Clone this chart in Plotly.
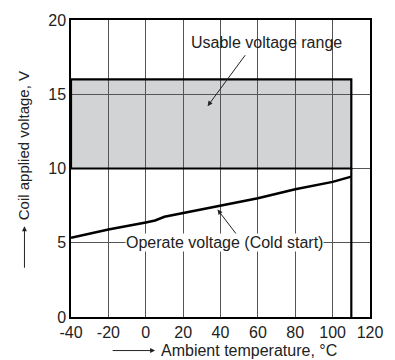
import plotly.graph_objects as go

# Operate voltage (cold start) curve
temps = [-40, -20, 0, 5, 10, 20, 40, 60, 80, 100, 110]
volts = [5.33, 5.89, 6.37, 6.5, 6.75, 6.99, 7.52, 8.0, 8.6, 9.1, 9.45]

# Usable voltage range
range_t = [-40, 110]
range_v = [10, 16]

x_ticks = [-40, -20, 0, 20, 40, 60, 80, 100, 120]
x_ticktext = ["-40", "-20", "0", "20", "40", "60", "80", "100", "120"]
y_ticks = [0, 5, 10, 15, 20]

FONT = "Liberation Sans, Arial, sans-serif"
FS = 16
L, R, T, B = 71, 22, 16, 43
W, H = 395, 360
PW, PH = W - L - R, H - T - B


def px(xp):
    return (xp - L) / PW


def py(yp):
    return (H - B - yp) / PH


fig = go.Figure()
fig.add_trace(go.Scatter(x=temps, y=volts, mode="lines",
                         line=dict(color="black", width=2.5), showlegend=False,
                         hoverinfo="skip"))

fig.add_shape(type="rect", x0=range_t[0], x1=range_t[1], y0=range_v[0], y1=range_v[1],
              xref="x", yref="y", fillcolor="#d2d3d5", line=dict(width=0), layer="below")
fig.add_shape(type="rect", x0=range_t[0], x1=range_t[1], y0=range_v[0], y1=range_v[1],
              xref="x", yref="y", fillcolor="rgba(0,0,0,0)",
              line=dict(color="black", width=2.2), layer="above")
fig.add_shape(type="line", x0=range_t[1], x1=range_t[1], y0=0, y1=range_v[0],
              xref="x", yref="y", line=dict(color="black", width=2.2), layer="above")

tf = dict(size=FS, color="#222", family=FONT)
ann = []
# Usable voltage range label + arrow
ann.append(dict(x=64.4, y=18.46, xref="x", yref="y", text="Usable voltage range",
                showarrow=False, font=tf, xanchor="center", yanchor="middle"))
ann.append(dict(x=33.1, y=14.2, ax=53.8, ay=17.73, xref="x", yref="y", axref="x", ayref="y",
                text="", showarrow=True, arrowhead=2, arrowsize=1, arrowwidth=1,
                arrowcolor="#222", standoff=0))
# Operate voltage label + arrow
ann.append(dict(x=48.6, y=5.56, ax=38.4, ay=7.24, xref="x", yref="y", axref="x", ayref="y",
                text="", showarrow=True, arrowhead=0, arrowwidth=1, arrowcolor="#222"))
ann.append(dict(x=38.4, y=7.24, ax=40.5, ay=6.9, xref="x", yref="y", axref="x", ayref="y",
                text="", showarrow=True, arrowhead=2, arrowsize=1, arrowwidth=1,
                arrowcolor="#222", standoff=0))
ann.append(dict(x=41.9, y=5.0, xref="x", yref="y", text="Operate voltage (Cold start)",
                showarrow=False, bgcolor="white", borderpad=0, font=tf,
                xanchor="center", yanchor="middle"))
# Axis titles with arrows
ann.append(dict(x=px(160), y=py(351), xref="paper", yref="paper",
                text="Ambient temperature, °C", showarrow=False, font=tf,
                xanchor="left", yanchor="middle"))
ann.append(dict(x=px(156), y=py(351), ax=-44, ay=0, xref="paper", yref="paper",
                text="", showarrow=True, arrowhead=2, arrowsize=1, arrowwidth=1,
                arrowcolor="#222", standoff=0))
ann.append(dict(x=px(23), y=py(221), xref="paper", yref="paper",
                text="Coil applied voltage, V", textangle=-90, showarrow=False,
                font=dict(size=15, color="#222", family=FONT),
                xanchor="center", yanchor="bottom"))
ann.append(dict(x=px(24), y=py(225), ax=0, ay=43, xref="paper", yref="paper",
                text="", showarrow=True, arrowhead=2, arrowsize=1, arrowwidth=1,
                arrowcolor="#222", standoff=0))

fig.update_layout(
    width=W, height=H,
    margin=dict(l=L, r=R, t=T, b=B),
    paper_bgcolor="white", plot_bgcolor="white",
    font=dict(family=FONT, size=FS, color="#222"),
    annotations=ann,
    showlegend=False,
)
fig.update_xaxes(range=[-40, 120], tickvals=x_ticks, ticktext=x_ticktext, ticks="",
                 showgrid=True, gridcolor="#555", gridwidth=1, showline=True,
                 linecolor="black", linewidth=1.5, mirror=True, zeroline=False,
                 fixedrange=True, tickfont=tf)
fig.update_yaxes(range=[0, 20], tickvals=y_ticks, ticks="", showgrid=True,
                 gridcolor="#555", gridwidth=1, showline=True, linecolor="black",
                 linewidth=1.5, mirror=True, zeroline=False, fixedrange=True,
                 tickfont=tf)

fig.write_html("out.html", config={"displayModeBar": False})
